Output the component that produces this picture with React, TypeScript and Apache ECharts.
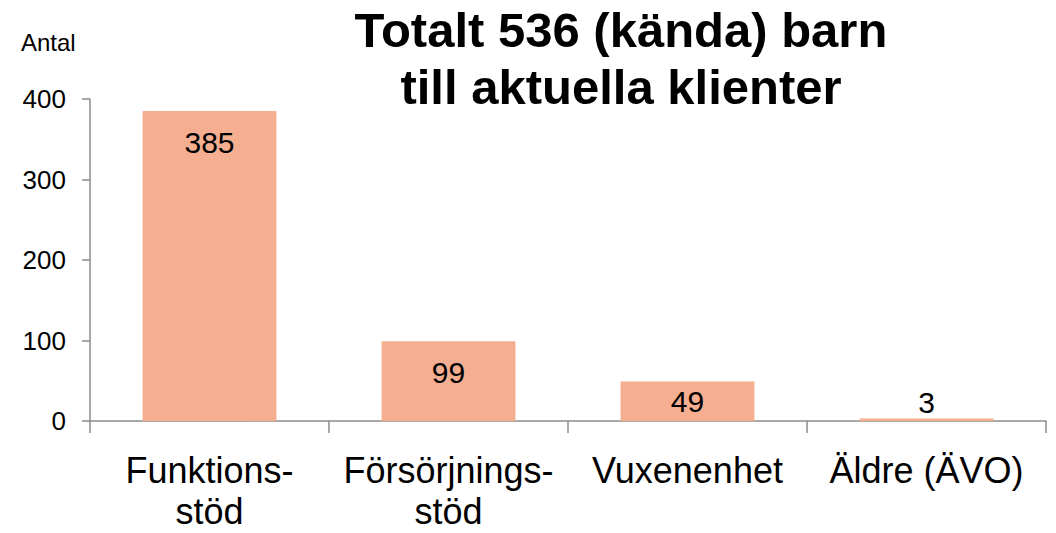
import React, { useEffect, useRef } from "react";
import * as echarts from "echarts";

const categories: string[] = ["Funktions-\nstöd", "Försörjnings-\nstöd", "Vuxenenhet", "Äldre (ÄVO)"];
const values: number[] = [385, 99, 49, 3];
const yTicks = { min: 0, max: 400, interval: 100 };
const titleLines: string[] = ["Totalt 536 (kända) barn", "till aktuella klienter"];
const yAxisName = "Antal";

const FONT = "'Liberation Sans', Arial, sans-serif";
const BAR_COLOR = "#F5AE90";
const AXIS_COLOR = "#8C8C8C";

export default function App() {
  const ref = useRef<HTMLDivElement>(null);
  useEffect(() => {
    document.body.style.margin = "0";
    if (!ref.current) return;
    const chart = echarts.init(ref.current, undefined, { renderer: "svg" });
    const labelFor = (v: number, i: number) => {
      if (i === values.length - 1) return { position: "top", distance: 1 };
      if (v < 60) return { position: "inside" };
      return { position: "insideTop", distance: 16 };
    };
    chart.setOption({
      animation: false,
      backgroundColor: "#ffffff",
      textStyle: { fontFamily: FONT },
      grid: {
        left: 90,
        right: 10,
        top: 99,
        bottom: 112,
        containLabel: false,
        outerBoundsMode: "none",
      },
      graphic: [
        {
          type: "text",
          left: 621 - 300,
          top: 1,
          style: {
            text: titleLines.join("\n"),
            width: 600,
            align: "center",
            x: 300,
            textAlign: "center",
            fontFamily: FONT,
            fontSize: 49,
            fontWeight: "bold",
            lineHeight: 57,
            fill: "#000000",
          },
        },
        {
          type: "text",
          left: 21,
          top: 30,
          style: {
            text: yAxisName,
            fontFamily: FONT,
            fontSize: 24,
            fill: "#000000",
          },
        },
      ],
      xAxis: {
        type: "category",
        data: categories,
        boundaryGap: true,
        axisLine: { show: true, lineStyle: { color: AXIS_COLOR, width: 1.5 } },
        axisTick: { show: true, length: 12, alignWithLabel: false, lineStyle: { color: AXIS_COLOR, width: 1.5 } },
        axisLabel: {
          color: "#000000",
          fontFamily: FONT,
          fontSize: 36,
          lineHeight: 41,
          margin: 29,
          interval: 0,
        },
      },
      yAxis: {
        type: "value",
        min: yTicks.min,
        max: yTicks.max,
        interval: yTicks.interval,
        splitLine: { show: false },
        axisLine: { show: true, lineStyle: { color: AXIS_COLOR, width: 1.5 } },
        axisTick: { show: true, length: 8, lineStyle: { color: AXIS_COLOR, width: 1.5 } },
        axisLabel: { color: "#000000", fontFamily: FONT, fontSize: 26, margin: 24 },
      },
      series: [
        {
          type: "bar",
          barWidth: "56%",
          itemStyle: { color: BAR_COLOR },
          label: {
            show: true,
            color: "#000000",
            fontFamily: FONT,
            fontSize: 30,
          },
          data: values.map((v, i) => ({ value: v, label: labelFor(v, i) })),
        },
      ],
    });
    return () => chart.dispose();
  }, []);
  return <div ref={ref} style={{ width: 1056, height: 533 }} />;
}
